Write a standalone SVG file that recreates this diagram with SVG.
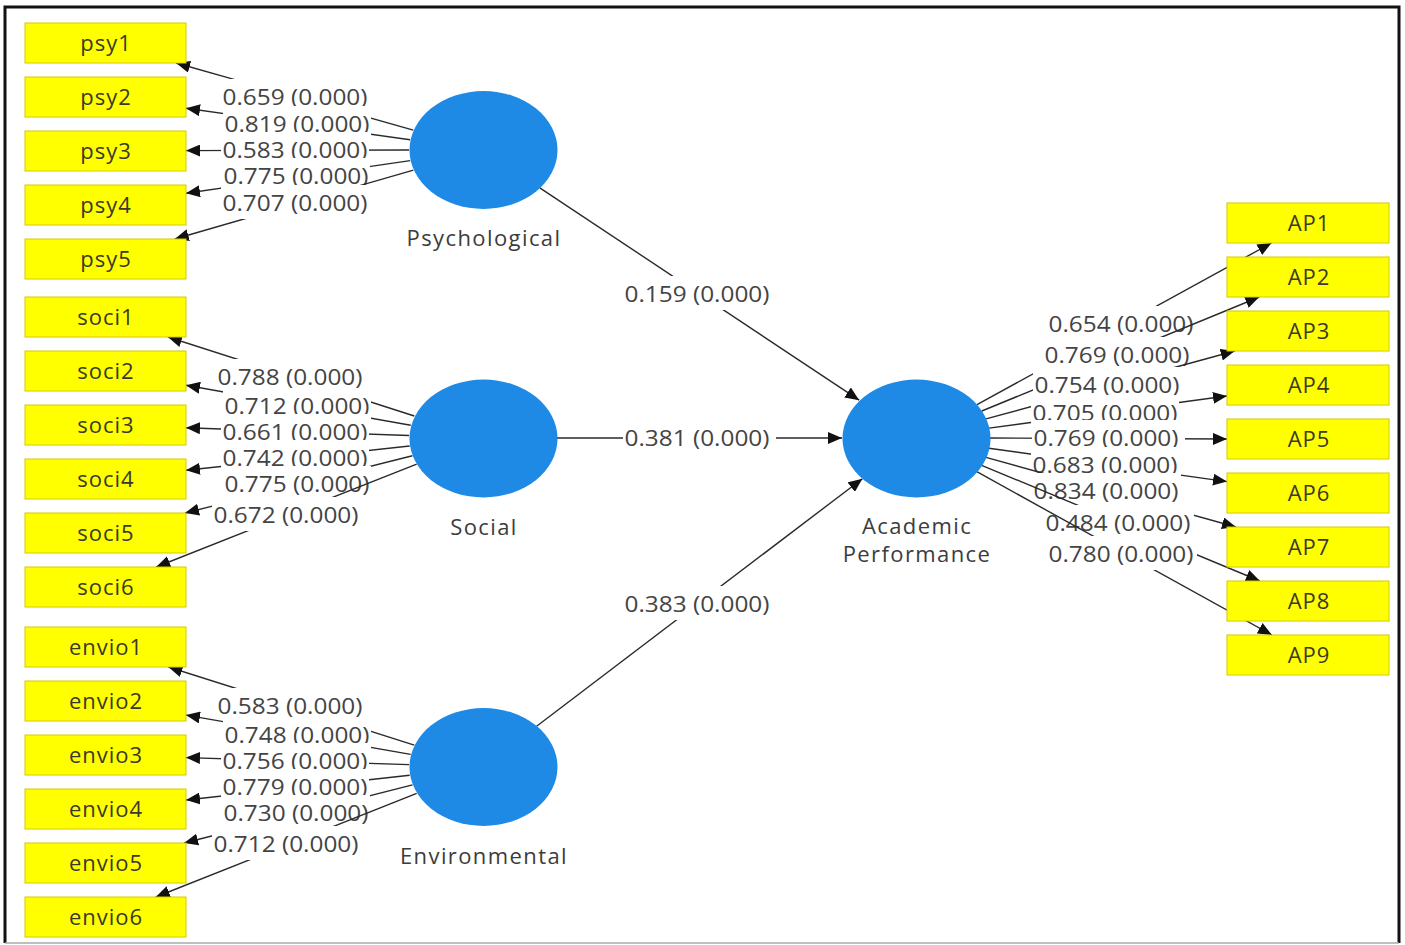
<svg xmlns="http://www.w3.org/2000/svg" width="1405" height="945" viewBox="0 0 1405 945">
<defs>
<marker id="ah" viewBox="0 0 14 12" refX="14" refY="6" markerWidth="14" markerHeight="12" orient="auto" markerUnits="userSpaceOnUse"><path d="M0,0 L14,6 L0,12 z" fill="#111"/></marker>
<style>
.box{fill:#ffff00;stroke:#d6ca00;stroke-width:1}
.bt{font-family:"Open Sans","Noto Sans",sans-serif;font-size:22px;fill:#3a3a2a;text-anchor:middle;letter-spacing:1px}
.lv{fill:#1e8ae6}
.lt{font-family:"Open Sans","Noto Sans",sans-serif;font-size:22px;fill:#3c3c3c;text-anchor:middle;letter-spacing:1.4px}
.ln{stroke:#2a2a2a;stroke-width:1.4;fill:none;marker-end:url(#ah)}
.lb rect{fill:#fff}
.lb text{font-family:"Open Sans","Noto Sans",sans-serif;font-size:22px;fill:#444;text-anchor:middle}
</style>
</defs>
<rect x="0" y="0" width="1405" height="945" fill="#fff"/>
<path d="M5,943 L5,7 L1399,7 L1399,943" fill="none" stroke="#111" stroke-width="3"/>
<line x1="5" y1="943" x2="1399" y2="943" stroke="#aaa" stroke-width="1.5"/>

<g id="connectors">
<path class="ln" d="M413.3,130.2 L176.1,63"/>
<g class="lb"><rect x="221" y="79" width="148" height="34"/><text x="295" y="105" textLength="145" lengthAdjust="spacingAndGlyphs">0.659 (0.000)</text></g>
<path class="ln" d="M410.1,139.8 L186,108.3"/>
<g class="lb"><rect x="223" y="106" width="148" height="34"/><text x="297" y="132" textLength="145" lengthAdjust="spacingAndGlyphs">0.819 (0.000)</text></g>
<path class="ln" d="M409,150 L186,150.6"/>
<g class="lb"><rect x="221" y="132" width="148" height="34"/><text x="295" y="158" textLength="145" lengthAdjust="spacingAndGlyphs">0.583 (0.000)</text></g>
<path class="ln" d="M410.2,160.6 L186,193.3"/>
<g class="lb"><rect x="222" y="158" width="148" height="34"/><text x="296" y="184" textLength="145" lengthAdjust="spacingAndGlyphs">0.775 (0.000)</text></g>
<path class="ln" d="M413.4,170.1 L174.8,239"/>
<g class="lb"><rect x="221" y="185" width="148" height="34"/><text x="295" y="211" textLength="145" lengthAdjust="spacingAndGlyphs">0.707 (0.000)</text></g>

<path class="ln" d="M414.3,416 L167.9,337"/>
<g class="lb"><rect x="216" y="359" width="148" height="34"/><text x="290" y="385" textLength="145" lengthAdjust="spacingAndGlyphs">0.788 (0.000)</text></g>
<path class="ln" d="M410.7,425.2 L186,385.3"/>
<g class="lb"><rect x="223" y="388" width="148" height="34"/><text x="297" y="414" textLength="145" lengthAdjust="spacingAndGlyphs">0.712 (0.000)</text></g>
<path class="ln" d="M409.1,435.5 L186,427.8"/>
<g class="lb"><rect x="221" y="414" width="148" height="34"/><text x="295" y="440" textLength="145" lengthAdjust="spacingAndGlyphs">0.661 (0.000)</text></g>
<path class="ln" d="M409.7,446 L186,470.3"/>
<g class="lb"><rect x="221" y="440" width="148" height="34"/><text x="295" y="466" textLength="145" lengthAdjust="spacingAndGlyphs">0.742 (0.000)</text></g>
<path class="ln" d="M412.4,455.8 L185,513"/>
<g class="lb"><rect x="223" y="466" width="148" height="34"/><text x="297" y="492" textLength="145" lengthAdjust="spacingAndGlyphs">0.775 (0.000)</text></g>
<path class="ln" d="M416.7,464.2 L156.2,567"/>
<g class="lb"><rect x="212" y="497" width="148" height="34"/><text x="286" y="523" textLength="145" lengthAdjust="spacingAndGlyphs">0.672 (0.000)</text></g>

<path class="ln" d="M414.3,745.1 L168.4,667"/>
<g class="lb"><rect x="216" y="688" width="148" height="34"/><text x="290" y="714" textLength="145" lengthAdjust="spacingAndGlyphs">0.583 (0.000)</text></g>
<path class="ln" d="M410.7,754.4 L186,715.1"/>
<g class="lb"><rect x="223" y="717" width="148" height="34"/><text x="297" y="743" textLength="145" lengthAdjust="spacingAndGlyphs">0.748 (0.000)</text></g>
<path class="ln" d="M409.1,764.6 L186,757.6"/>
<g class="lb"><rect x="221" y="743" width="148" height="34"/><text x="295" y="769" textLength="145" lengthAdjust="spacingAndGlyphs">0.756 (0.000)</text></g>
<path class="ln" d="M409.7,775.2 L186,800"/>
<g class="lb"><rect x="221" y="769" width="148" height="34"/><text x="295" y="795" textLength="145" lengthAdjust="spacingAndGlyphs">0.779 (0.000)</text></g>
<path class="ln" d="M412.5,784.9 L184.1,843"/>
<g class="lb"><rect x="222" y="795" width="148" height="34"/><text x="296" y="821" textLength="145" lengthAdjust="spacingAndGlyphs">0.730 (0.000)</text></g>
<path class="ln" d="M416.7,793.3 L155.8,897"/>
<g class="lb"><rect x="212" y="826" width="148" height="34"/><text x="286" y="852" textLength="145" lengthAdjust="spacingAndGlyphs">0.712 (0.000)</text></g>

<path class="ln" d="M539.8,187.8 L859.2,400.2"/>
<g class="lb"><rect x="623" y="276" width="150" height="34"/><text x="697" y="302" textLength="145" lengthAdjust="spacingAndGlyphs">0.159 (0.000)</text></g>
<path class="ln" d="M557,438 L842,438"/>
<g class="lb"><rect x="623" y="420" width="153" height="34"/><text x="697" y="446" textLength="145" lengthAdjust="spacingAndGlyphs">0.381 (0.000)</text></g>
<path class="ln" d="M536.6,726.3 L862.4,478.7"/>
<g class="lb"><rect x="623" y="586" width="150" height="34"/><text x="697" y="612" textLength="145" lengthAdjust="spacingAndGlyphs">0.383 (0.000)</text></g>

<path class="ln" d="M977,404.6 L1271.5,243"/>
<g class="lb"><rect x="1047" y="306" width="148" height="34"/><text x="1121" y="332" textLength="145" lengthAdjust="spacingAndGlyphs">0.654 (0.000)</text></g>
<path class="ln" d="M981.8,411 L1259.3,297"/>
<g class="lb"><rect x="1043" y="337" width="148" height="34"/><text x="1117" y="363" textLength="145" lengthAdjust="spacingAndGlyphs">0.769 (0.000)</text></g>
<path class="ln" d="M986,418.9 L1234.7,351"/>
<g class="lb"><rect x="1033" y="367" width="150" height="34"/><text x="1107" y="393" textLength="145" lengthAdjust="spacingAndGlyphs">0.754 (0.000)</text></g>
<path class="ln" d="M989,428.1 L1227,396"/>
<g class="lb"><rect x="1031" y="395" width="148" height="34"/><text x="1105" y="421" textLength="145" lengthAdjust="spacingAndGlyphs">0.705 (0.000)</text></g>
<path class="ln" d="M990,438 L1227,439"/>
<g class="lb"><rect x="1032" y="420" width="153" height="34"/><text x="1106" y="446" textLength="145" lengthAdjust="spacingAndGlyphs">0.769 (0.000)</text></g>
<path class="ln" d="M988.9,448.2 L1227,481.6"/>
<g class="lb"><rect x="1031" y="447" width="150" height="34"/><text x="1105" y="473" textLength="145" lengthAdjust="spacingAndGlyphs">0.683 (0.000)</text></g>
<path class="ln" d="M985.9,457.4 L1236,527"/>
<g class="lb"><rect x="1032" y="473" width="148" height="34"/><text x="1106" y="499" textLength="145" lengthAdjust="spacingAndGlyphs">0.834 (0.000)</text></g>
<path class="ln" d="M981.6,465.3 L1259.9,581"/>
<g class="lb"><rect x="1044" y="505" width="150" height="34"/><text x="1118" y="531" textLength="145" lengthAdjust="spacingAndGlyphs">0.484 (0.000)</text></g>
<path class="ln" d="M976.8,471.7 L1271.9,635"/>
<g class="lb"><rect x="1047" y="536" width="150" height="34"/><text x="1121" y="562" textLength="145" lengthAdjust="spacingAndGlyphs">0.780 (0.000)</text></g>
</g>

<g id="psychological"><ellipse class="lv" cx="483.5" cy="150" rx="74" ry="59"/><text class="lt" x="484" y="246">Psychological</text></g>
<g id="social"><ellipse class="lv" cx="483.5" cy="438.5" rx="74" ry="59"/><text class="lt" x="484" y="535">Social</text></g>
<g id="environmental"><ellipse class="lv" cx="483.5" cy="767" rx="74" ry="59"/><text class="lt" x="484" y="864">Environmental</text></g>
<g id="academic-performance"><ellipse class="lv" cx="916.5" cy="438.5" rx="74" ry="59"/><text class="lt" x="917" y="534">Academic</text><text class="lt" x="917" y="562">Performance</text></g>

<g id="psy1"><rect class="box" x="25" y="23" width="161" height="40"/><text class="bt" x="106" y="51">psy1</text></g>
<g id="psy2"><rect class="box" x="25" y="77" width="161" height="40"/><text class="bt" x="106" y="105">psy2</text></g>
<g id="psy3"><rect class="box" x="25" y="131" width="161" height="40"/><text class="bt" x="106" y="159">psy3</text></g>
<g id="psy4"><rect class="box" x="25" y="185" width="161" height="40"/><text class="bt" x="106" y="213">psy4</text></g>
<g id="psy5"><rect class="box" x="25" y="239" width="161" height="40"/><text class="bt" x="106" y="267">psy5</text></g>

<g id="soci1"><rect class="box" x="25" y="297" width="161" height="40"/><text class="bt" x="106" y="325">soci1</text></g>
<g id="soci2"><rect class="box" x="25" y="351" width="161" height="40"/><text class="bt" x="106" y="379">soci2</text></g>
<g id="soci3"><rect class="box" x="25" y="405" width="161" height="40"/><text class="bt" x="106" y="433">soci3</text></g>
<g id="soci4"><rect class="box" x="25" y="459" width="161" height="40"/><text class="bt" x="106" y="487">soci4</text></g>
<g id="soci5"><rect class="box" x="25" y="513" width="161" height="40"/><text class="bt" x="106" y="541">soci5</text></g>
<g id="soci6"><rect class="box" x="25" y="567" width="161" height="40"/><text class="bt" x="106" y="595">soci6</text></g>

<g id="envio1"><rect class="box" x="25" y="627" width="161" height="40"/><text class="bt" x="106" y="655">envio1</text></g>
<g id="envio2"><rect class="box" x="25" y="681" width="161" height="40"/><text class="bt" x="106" y="709">envio2</text></g>
<g id="envio3"><rect class="box" x="25" y="735" width="161" height="40"/><text class="bt" x="106" y="763">envio3</text></g>
<g id="envio4"><rect class="box" x="25" y="789" width="161" height="40"/><text class="bt" x="106" y="817">envio4</text></g>
<g id="envio5"><rect class="box" x="25" y="843" width="161" height="40"/><text class="bt" x="106" y="871">envio5</text></g>
<g id="envio6"><rect class="box" x="25" y="897" width="161" height="40"/><text class="bt" x="106" y="925">envio6</text></g>

<g id="AP1"><rect class="box" x="1227" y="203" width="162" height="40"/><text class="bt" x="1309" y="231">AP1</text></g>
<g id="AP2"><rect class="box" x="1227" y="257" width="162" height="40"/><text class="bt" x="1309" y="285">AP2</text></g>
<g id="AP3"><rect class="box" x="1227" y="311" width="162" height="40"/><text class="bt" x="1309" y="339">AP3</text></g>
<g id="AP4"><rect class="box" x="1227" y="365" width="162" height="40"/><text class="bt" x="1309" y="393">AP4</text></g>
<g id="AP5"><rect class="box" x="1227" y="419" width="162" height="40"/><text class="bt" x="1309" y="447">AP5</text></g>
<g id="AP6"><rect class="box" x="1227" y="473" width="162" height="40"/><text class="bt" x="1309" y="501">AP6</text></g>
<g id="AP7"><rect class="box" x="1227" y="527" width="162" height="40"/><text class="bt" x="1309" y="555">AP7</text></g>
<g id="AP8"><rect class="box" x="1227" y="581" width="162" height="40"/><text class="bt" x="1309" y="609">AP8</text></g>
<g id="AP9"><rect class="box" x="1227" y="635" width="162" height="40"/><text class="bt" x="1309" y="663">AP9</text></g>
</svg>
